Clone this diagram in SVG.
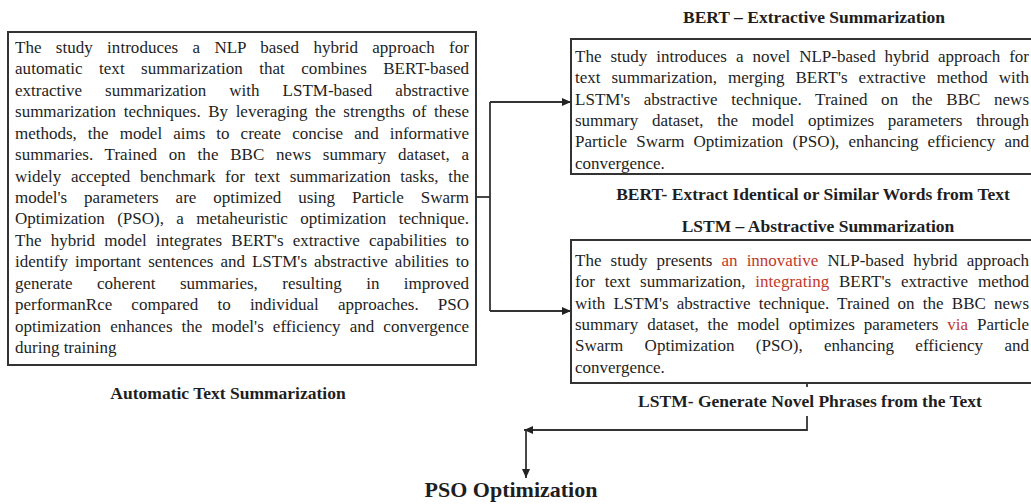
<svg xmlns="http://www.w3.org/2000/svg" width="1031" height="504" viewBox="0 0 1031 504">
<style>
text{font-family:"Liberation Serif","Times New Roman",serif;fill:#1e1e1e}
.b{font-size:17px}
.h{font-size:17.5px;font-weight:bold;text-anchor:middle}
.red{fill:#c0392b}
.box{fill:#fff;stroke:#333;stroke-width:2}
.c{stroke:#333;stroke-width:1.8;fill:none}
</style>
<defs>
<marker id="ah" markerUnits="userSpaceOnUse" markerWidth="10" markerHeight="8" refX="9" refY="4" orient="auto">
<path d="M0,0 L9,4 L0,8 z" fill="#222"/>
</marker>
</defs>
<g id="connectors">
<path class="c" d="M476,197 H490"/>
<path class="c" d="M490,102 V311"/>
<path class="c" d="M490,102 H571" marker-end="url(#ah)"/>
<path class="c" d="M490,311 H571" marker-end="url(#ah)"/>
<path class="c" d="M807,383 V387"/>
<path class="c" d="M807,416 V430 H524" marker-end="url(#ah)"/>
<path class="c" d="M526,430 V478" marker-end="url(#ah)"/>
</g>
<g id="node-automatic">
<rect class="box" x="8" y="32" width="468" height="333"/>
<text class="b" x="15" y="53" word-spacing="10" textLength="454" lengthAdjust="spacing">The study introduces a NLP based hybrid approach for</text>
<text class="b" x="15" y="74.4" word-spacing="12" textLength="454" lengthAdjust="spacing">automatic text summarization that combines BERT-based</text>
<text class="b" x="15" y="95.9" word-spacing="18.8" textLength="454" lengthAdjust="spacing">extractive summarization with LSTM-based abstractive</text>
<text class="b" x="15" y="117.3" word-spacing="3.3" textLength="454" lengthAdjust="spacing">summarization techniques. By leveraging the strengths of these</text>
<text class="b" x="15" y="138.7" word-spacing="6.8" textLength="454" lengthAdjust="spacing">methods, the model aims to create concise and informative</text>
<text class="b" x="15" y="160.2" word-spacing="7.5" textLength="454" lengthAdjust="spacing">summaries. Trained on the BBC news summary dataset, a</text>
<text class="b" x="15" y="181.6" word-spacing="5.4" textLength="454" lengthAdjust="spacing">widely accepted benchmark for text summarization tasks, the</text>
<text class="b" x="15" y="203" word-spacing="12.7" textLength="454" lengthAdjust="spacing">model's parameters are optimized using Particle Swarm</text>
<text class="b" x="15" y="224.4" word-spacing="8.2" textLength="454" lengthAdjust="spacing">Optimization (PSO), a metaheuristic optimization technique.</text>
<text class="b" x="15" y="245.9" word-spacing="4.9" textLength="454" lengthAdjust="spacing">The hybrid model integrates BERT's extractive capabilities to</text>
<text class="b" x="15" y="267.3" word-spacing="2.8" textLength="454" lengthAdjust="spacing">identify important sentences and LSTM's abstractive abilities to</text>
<text class="b" x="15" y="288.7" word-spacing="20.2" textLength="454" lengthAdjust="spacing">generate coherent summaries, resulting in improved</text>
<text class="b" x="15" y="310.2" word-spacing="14.9" textLength="454" lengthAdjust="spacing">performanRce compared to individual approaches. PSO</text>
<text class="b" x="15" y="331.6" word-spacing="4.8" textLength="454" lengthAdjust="spacing">optimization enhances the model's efficiency and convergence</text>
<text class="b" x="15" y="353">during training</text>
<text class="h" x="228" y="399">Automatic Text Summarization</text>
</g>
<g id="node-bert">
<text class="h" x="814" y="23">BERT – Extractive Summarization</text>
<rect class="box" x="571" y="39" width="462" height="135"/>
<text class="b" x="575" y="62" word-spacing="4.7" textLength="454" lengthAdjust="spacing">The study introduces a novel NLP-based hybrid approach for</text>
<text class="b" x="575" y="83.3" word-spacing="6.6" textLength="454" lengthAdjust="spacing">text summarization, merging BERT's extractive method with</text>
<text class="b" x="575" y="104.6" word-spacing="9.4" textLength="454" lengthAdjust="spacing">LSTM's abstractive technique. Trained on the BBC news</text>
<text class="b" x="575" y="125.9" word-spacing="9.5" textLength="454" lengthAdjust="spacing">summary dataset, the model optimizes parameters through</text>
<text class="b" x="575" y="147.2" word-spacing="4.9" textLength="454" lengthAdjust="spacing">Particle Swarm Optimization (PSO), enhancing efficiency and</text>
<text class="b" x="575" y="168.5">convergence.</text>
<text class="h" x="813" y="200">BERT- Extract Identical or Similar Words from Text</text>
</g>
<g id="node-lstm">
<text class="h" x="818" y="232">LSTM – Abstractive Summarization</text>
<rect class="box" x="571" y="240" width="462" height="143"/>
<text class="b" x="575" y="266" word-spacing="4.9" textLength="454" lengthAdjust="spacing">The study presents <tspan class="red">an innovative</tspan> NLP-based hybrid approach</text>
<text class="b" x="575" y="287.3" word-spacing="5.5" textLength="454" lengthAdjust="spacing">for text summarization, <tspan class="red">integrating</tspan> BERT's extractive method</text>
<text class="b" x="575" y="308.6" word-spacing="3.9" textLength="454" lengthAdjust="spacing">with LSTM's abstractive technique. Trained on the BBC news</text>
<text class="b" x="575" y="330" word-spacing="4.7" textLength="454" lengthAdjust="spacing">summary dataset, the model optimizes parameters <tspan class="red">via</tspan> Particle</text>
<text class="b" x="575" y="351.2" word-spacing="17.1" textLength="454" lengthAdjust="spacing">Swarm Optimization (PSO), enhancing efficiency and</text>
<text class="b" x="575" y="372.5">convergence.</text>
<text class="h" x="810" y="407">LSTM- Generate Novel Phrases from the Text</text>
</g>
<g id="node-pso">
<text x="511" y="497" style="font-size:22px;font-weight:bold;text-anchor:middle">PSO Optimization</text>
</g>
</svg>
